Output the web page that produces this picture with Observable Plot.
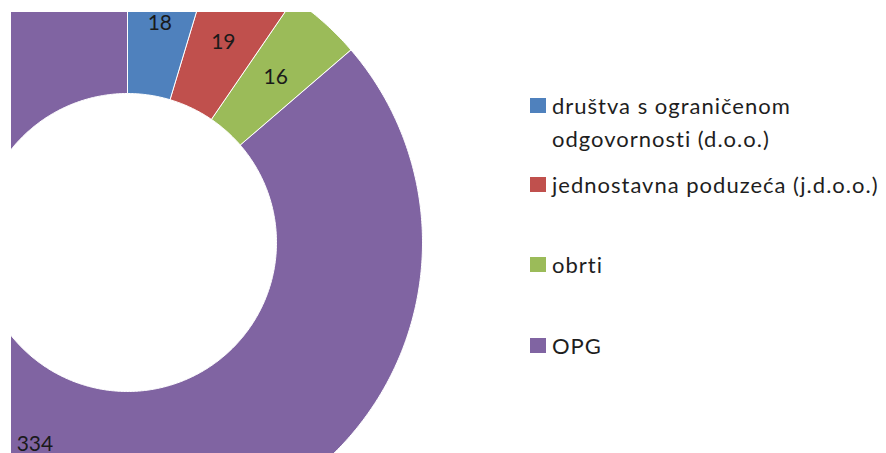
<!DOCTYPE html>
<html>
<head>
<meta charset="utf-8">
<script src="https://cdn.jsdelivr.net/npm/d3@7"></script>
<script src="https://cdn.jsdelivr.net/npm/@observablehq/plot@0.6"></script>
<style>
  html, body { margin: 0; padding: 0; background: #fff; }
  #wrap { position: relative; width: 886px; height: 453px; overflow: hidden; font-family: Lato, "Open Sans", sans-serif; }
  #wrap svg { position: absolute; left: 0; top: 0; }
  .item { position: absolute; left: 530px; font-size: 22px; line-height: 33px; color: #1e1e1e; white-space: pre; letter-spacing: 1px; }
  .sw { position: absolute; left: 530px; width: 16px; height: 15px; }
  .lab { position: absolute; left: 552px; }
</style>
</head>
<body>
<div id="wrap"></div>
<script>
const categories = ["društva s ograničenom odgovornosti (d.o.o.)", "jednostavna poduzeća (j.d.o.o.)", "obrti", "OPG"];
const legendLabels = ["društva s ograničenom\nodgovornosti (d.o.o.)", "jednostavna poduzeća (j.d.o.o.)", "obrti", "OPG"];
const values = [18, 19, 16, 334];
const colors = ["#4F81BD", "#C0504D", "#9BBB59", "#8064A2"];

const innerR = 149 / 295;
const arcs = d3.pie().sort(null).value(d => d)(values);

const polys = [];
const labels = [];
arcs.forEach((a, i) => {
  const n = Math.max(8, Math.ceil((a.endAngle - a.startAngle) / 0.01));
  for (let k = 0; k <= n; k++) {
    const t = a.startAngle + (a.endAngle - a.startAngle) * k / n;
    polys.push({cat: categories[i], x: Math.sin(t), y: Math.cos(t)});
  }
  for (let k = n; k >= 0; k--) {
    const t = a.startAngle + (a.endAngle - a.startAngle) * k / n;
    polys.push({cat: categories[i], x: innerR * Math.sin(t), y: innerR * Math.cos(t)});
  }
  const m = (a.startAngle + a.endAngle) / 2;
  const r = (1 + innerR) / 2;
  labels.push({x: r * Math.sin(m), y: r * Math.cos(m), text: String(values[i])});
});

const cx = 127, cy = 242, R = 295;
const chart = Plot.plot({
  width: 886,
  height: 453,
  marginLeft: 11,
  marginTop: 12,
  marginRight: 0,
  marginBottom: 0,
  x: {domain: [-1, 1], range: [cx - R, cx + R], axis: null},
  y: {domain: [-1, 1], range: [cy + R, cy - R], axis: null},
  color: {domain: categories, range: colors},
  marks: [
    Plot.line(polys, {x: "x", y: "y", z: "cat", fill: "cat", stroke: "white", strokeWidth: 1, curve: "linear-closed", clip: "frame"}),
    Plot.text(labels, {x: "x", y: "y", text: "text", fontSize: 21, fill: "#1a1a1a", fontFamily: "Lato, sans-serif", clip: "frame"})
  ]
});
const wrap = document.getElementById("wrap");
wrap.appendChild(chart);

const baselines = [114, 193, 273, 354];
legendLabels.forEach((lab, i) => {
  const sw = document.createElement("div");
  sw.className = "sw";
  sw.style.top = (baselines[i] - 16) + "px";
  sw.style.background = colors[i];
  wrap.appendChild(sw);
  const t = document.createElement("div");
  t.className = "item lab";
  t.style.top = (baselines[i] - 25) + "px";
  t.textContent = lab;
  wrap.appendChild(t);
});
</script>
</body>
</html>
